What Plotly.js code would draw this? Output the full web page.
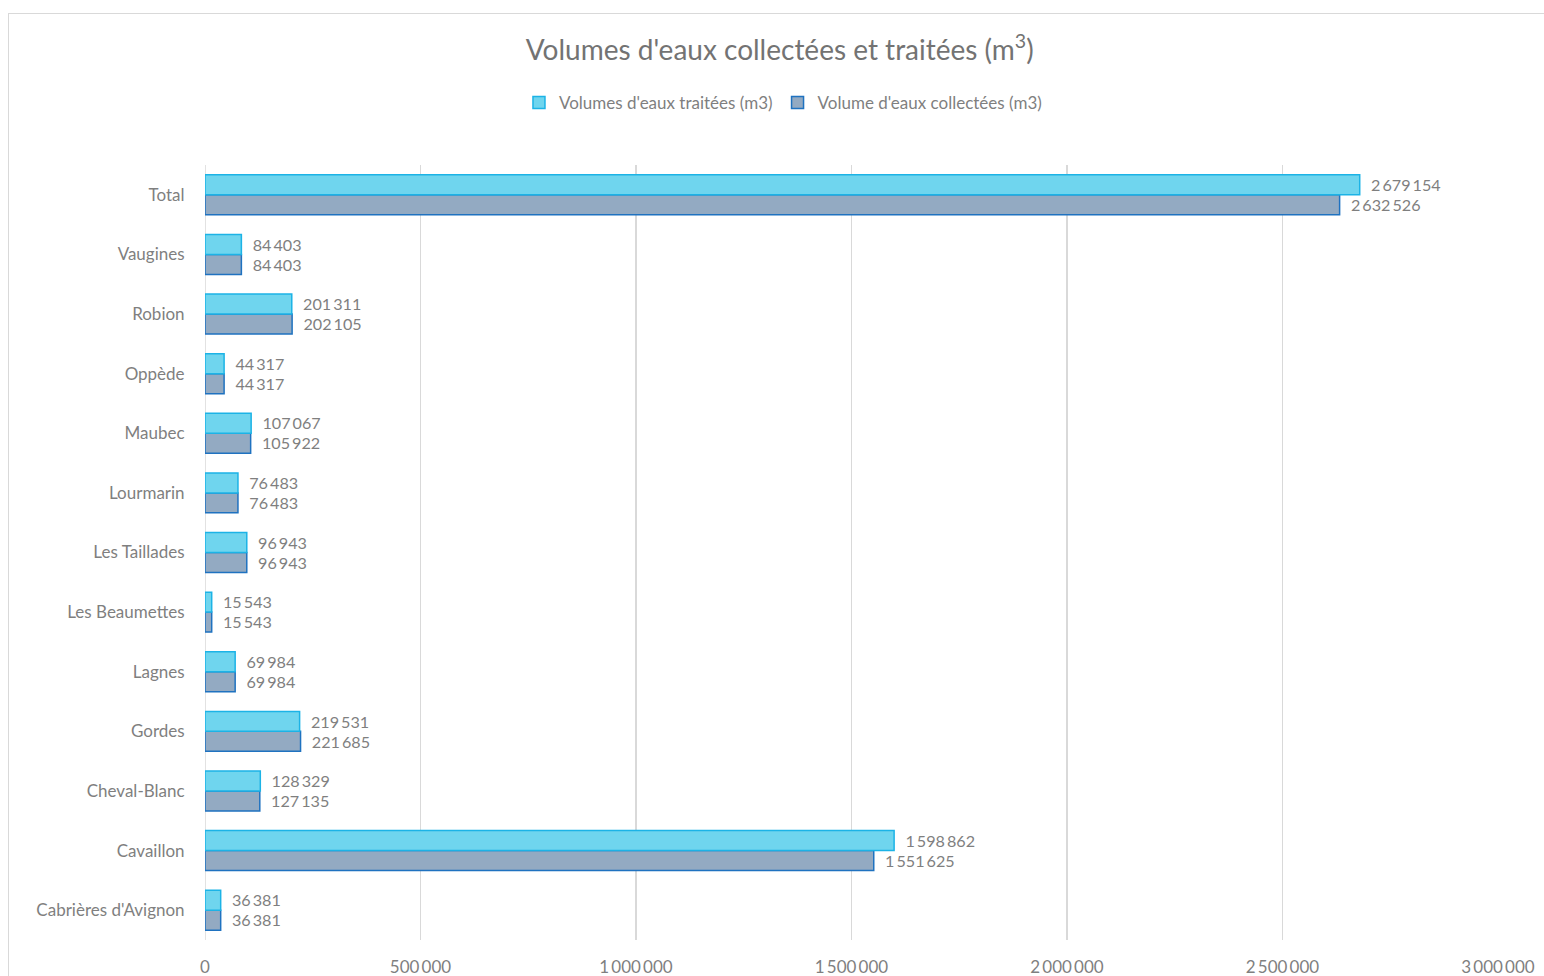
<!DOCTYPE html>
<html>
<head>
<meta charset="utf-8">
<script src="https://cdn.plot.ly/plotly-3.0.1.min.js"></script>
<style>
html,body{margin:0;padding:0;background:#fff;overflow:hidden;}
#wrap{position:relative;width:1544px;height:976px;}
#chart{position:absolute;left:0;top:0;width:1544px;height:976px;}
#frame{position:absolute;left:8px;top:13px;width:1600px;height:1000px;border:1.5px solid #d9d9d9;pointer-events:none;}
</style>
</head>
<body>
<div id="wrap"><div id="chart"></div><div id="frame"></div></div>
<script>
const categories = ["Cabrières d'Avignon","Cavaillon","Cheval-Blanc","Gordes","Lagnes","Les Beaumettes","Les Taillades","Lourmarin","Maubec","Oppède","Robion","Vaugines","Total"];
const traitees = [36381,1598862,128329,219531,69984,15543,96943,76483,107067,44317,201311,84403,2679154];
const collectees = [36381,1551625,127135,221685,69984,15543,96943,76483,105922,44317,202105,84403,2632526];
const seriesNames = ["Volumes d'eaux traitées (m3)","Volume d'eaux collectées (m3)"];
const xTicks = [0,500000,1000000,1500000,2000000,2500000,3000000];

const FONT = "Lato, 'Open Sans', sans-serif";
const textFont = {family: FONT, size: 17, color: '#7f7f7f'};

const traces = [
  {
    type: 'bar', orientation: 'h', name: seriesNames[1],
    y: categories, x: collectees,
    marker: {color: '#93aac2', line: {color: '#1f72c0', width: 1.5}},
    texttemplate: '\u00a0\u00a0%{x:,}', textposition: 'outside', textfont: textFont,
    cliponaxis: false, hoverinfo: 'x+y', legendrank: 2
  },
  {
    type: 'bar', orientation: 'h', name: seriesNames[0],
    y: categories, x: traitees,
    marker: {color: '#6fd5ee', line: {color: '#1cb3e6', width: 1.5}},
    texttemplate: '\u00a0\u00a0%{x:,}', textposition: 'outside', textfont: textFont,
    cliponaxis: false, hoverinfo: 'x+y', legendrank: 1
  }
];

const layout = {
  width: 1544, height: 976,
  paper_bgcolor: '#ffffff', plot_bgcolor: '#ffffff',
  separators: ',\u2009',
  font: {family: FONT, color: '#7f7f7f', size: 17},
  margin: {l: 205, r: 46, t: 165, b: 36},
  barmode: 'group', bargap: 0.33, bargroupgap: 0,
  title: {text: "Volumes d'eaux collectées et traitées (m<sup>3</sup>)", x: 0.505, xanchor: 'center', y: 0.949, yanchor: 'middle',
          font: {family: FONT, size: 28, color: '#737373'}},
  legend: {orientation: 'h', x: 0.447, xanchor: 'center', y: 1.08, yanchor: 'middle',
           font: {family: FONT, size: 17, color: '#7f7f7f'}, itemwidth: 30, traceorder: 'normal'},
  xaxis: {
    range: [0, 3000000], tickvals: xTicks, tickformat: ',', showgrid: true,
    gridcolor: '#d9d9d9', gridwidth: 1.5, zeroline: false, showline: false,
    ticks: 'outside', ticklen: 12, tickcolor: 'rgba(0,0,0,0)',
    tickfont: {family: FONT, size: 17, color: '#7f7f7f'}, fixedrange: true
  },
  yaxis: {
    type: 'category', categoryorder: 'array', categoryarray: categories,
    showgrid: false, zeroline: false, showline: false,
    ticks: 'outside', ticklen: 16, tickcolor: 'rgba(0,0,0,0)',
    tickfont: {family: FONT, size: 17, color: '#7f7f7f'}, fixedrange: true
  },
  shapes: [{type: 'line', xref: 'x', yref: 'paper', x0: 0, x1: 0, y0: 0, y1: 1, line: {color: '#d9d9d9', width: 1.5}, layer: 'below'}]
};

Plotly.newPlot('chart', traces, layout, {displayModeBar: false, staticPlot: true});
</script>
</body>
</html>
